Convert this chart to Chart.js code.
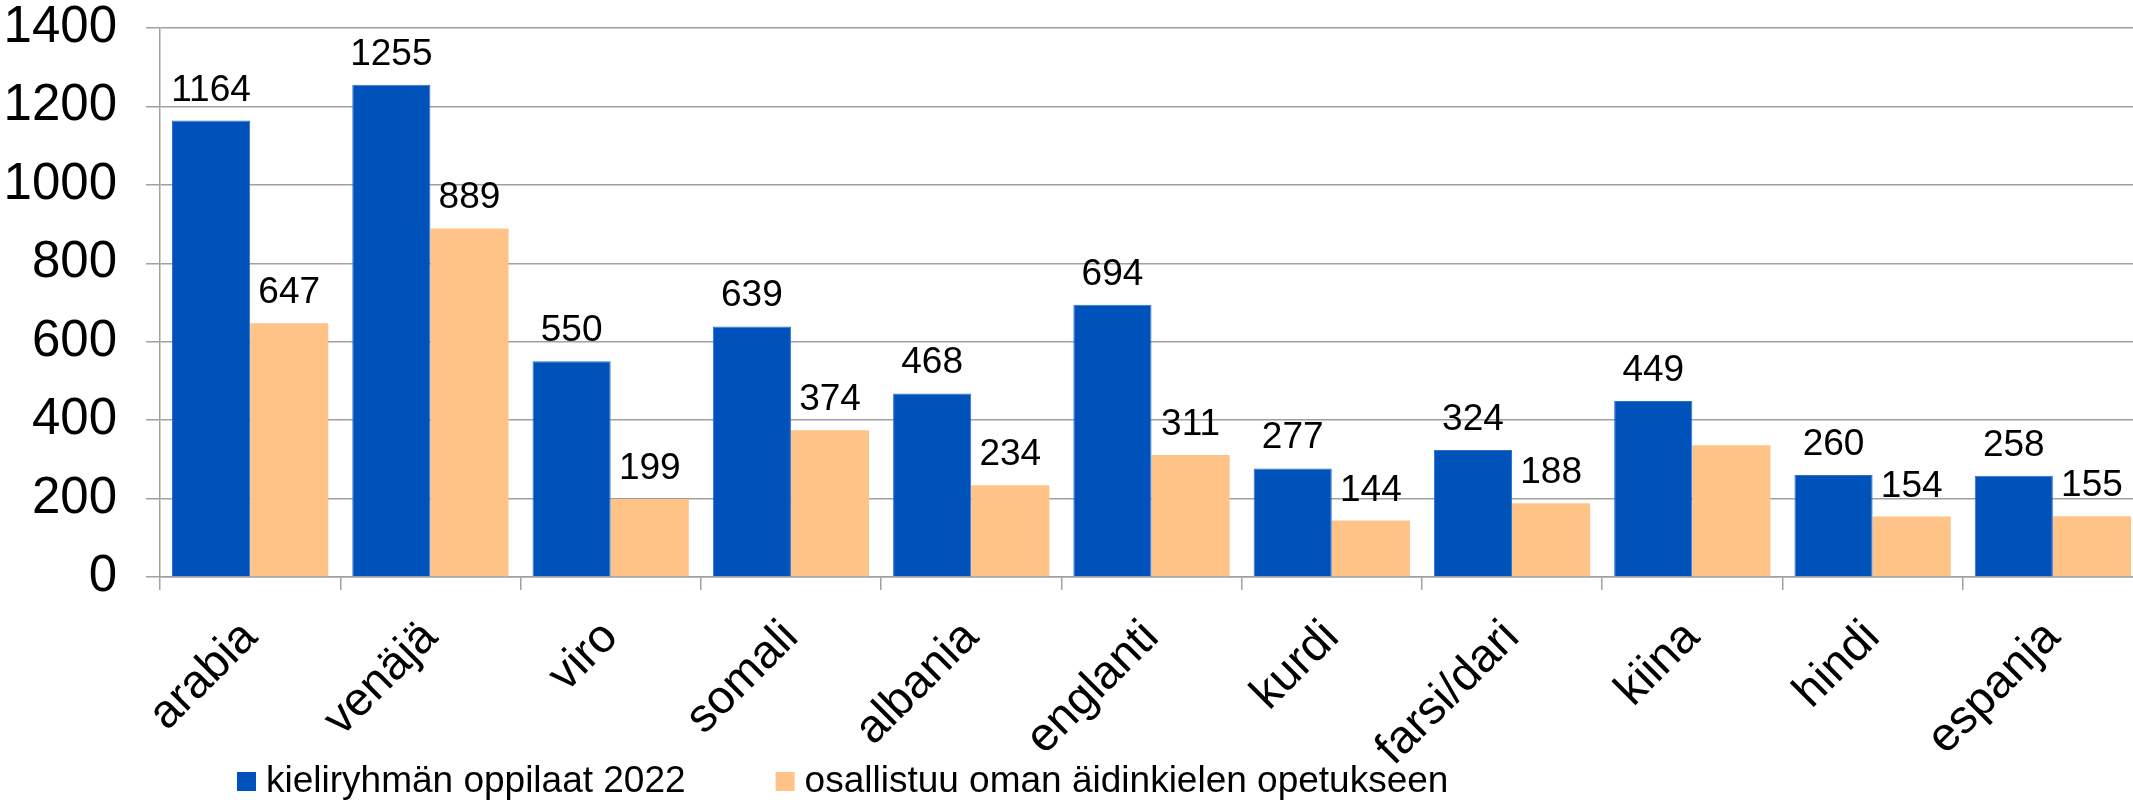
<!DOCTYPE html>
<html>
<head>
<meta charset="utf-8">
<script src="https://cdn.jsdelivr.net/npm/chart.js@4/dist/chart.umd.min.js"></script>
<style>
  html, body { margin: 0; padding: 0; background: #fff; overflow: hidden; }
  #chart { display: block; }
</style>
</head>
<body>
<canvas id="chart" width="2143" height="802"></canvas>
<script>
// chart data
const languages = ["arabia", "venäjä", "viro", "somali", "albania", "englanti", "kurdi", "farsi/dari", "kiina", "hindi", "espanja"];
const pupils2022 = [1164, 1255, 550, 639, 468, 694, 277, 324, 449, 260, 258];
const participating = [647, 889, 199, 374, 234, 311, 144, 188, 336, 154, 155];
const yTicks = [0, 200, 400, 600, 800, 1000, 1200, 1400];
// categories whose orange bar has no value label in the original
const unlabeledParticipating = ["kiina"];

const FONT = '"Liberation Sans", Arial, sans-serif';
const BLUE = "#0052bb";
const ORANGE = "#ffc387";
const GRID = "#a0a0a0";

/** draws the numbers above the bars */
const valueLabels = {
  id: "valueLabels",
  afterDatasetsDraw(chart) {
    const ctx = chart.ctx;
    ctx.save();
    ctx.font = "37px " + FONT;
    ctx.fillStyle = "#000";
    ctx.textAlign = "center";
    ctx.textBaseline = "alphabetic";
    chart.data.datasets.forEach((ds, di) => {
      const meta = chart.getDatasetMeta(di);
      meta.data.forEach((bar, i) => {
        if (di === 1 && unlabeledParticipating.includes(languages[i])) return;
        ctx.fillText(String(ds.data[i]), bar.x, bar.y - 20);
      });
    });
    ctx.restore();
  }
};

/** legend row at the bottom, left of centre like the original */
const bottomLegend = {
  id: "bottomLegend",
  afterDraw(chart) {
    const ctx = chart.ctx;
    ctx.save();
    ctx.font = "37px " + FONT;
    ctx.textBaseline = "alphabetic";
    let x = 237;
    const y = 792;
    for (const ds of chart.data.datasets) {
      ctx.fillStyle = ds.backgroundColor;
      ctx.fillRect(x, y - 20, 19, 19);
      ctx.fillStyle = "#000";
      ctx.fillText(ds.label, x + 29, y);
      x += 29 + ctx.measureText(ds.label).width + 90;
    }
    ctx.restore();
  }
};

new Chart(document.getElementById("chart"), {
  type: "bar",
  data: {
    labels: languages,
    datasets: [
      {
        label: "kieliryhmän oppilaat 2022",
        data: pupils2022,
        backgroundColor: BLUE,
        borderColor: "#2f6fd0",
        borderWidth: 1,
        categoryPercentage: 0.867,
        barPercentage: 1.0,
      },
      {
        label: "osallistuu oman äidinkielen opetukseen",
        data: participating,
        backgroundColor: ORANGE,
        categoryPercentage: 0.867,
        barPercentage: 1.0,
      },
    ],
  },
  options: {
    responsive: false,
    animation: false,
    devicePixelRatio: 1,
    layout: { padding: 0 },
    plugins: {
      legend: { display: false },
      tooltip: { enabled: false },
    },
    scales: {
      x: {
        grid: {
          offset: true,
          drawOnChartArea: false,
          drawTicks: true,
          tickLength: 13,
          color: GRID,
          lineWidth: 1.5,
        },
        border: { color: GRID, width: 1.5 },
        ticks: {
          autoSkip: false,
          minRotation: 45,
          maxRotation: 45,
          padding: 20,
          color: "#000",
          font: { family: FONT, size: 47 },
        },
        afterFit: (scale) => { scale.height = 225; },
      },
      y: {
        min: 0,
        max: 1400,
        afterBuildTicks: (scale) => { scale.ticks = yTicks.map(v => ({ value: v })); },
        grid: {
          color: GRID,
          lineWidth: 1.5,
          tickLength: 14,
        },
        border: { color: GRID, width: 1.5 },
        ticks: {
          padding: 29,
          color: "#000",
          font: { family: FONT, size: 51 },
          callback: (v) => String(v),
        },
        afterFit: (scale) => {
          scale.width = 160;
          // top gridline sits 28px below the canvas edge
          scale.paddingTop = 28;
          scale.paddingBottom = 0;
        },
      },
    },
  },
  plugins: [valueLabels, bottomLegend],
});
</script>
</body>
</html>
